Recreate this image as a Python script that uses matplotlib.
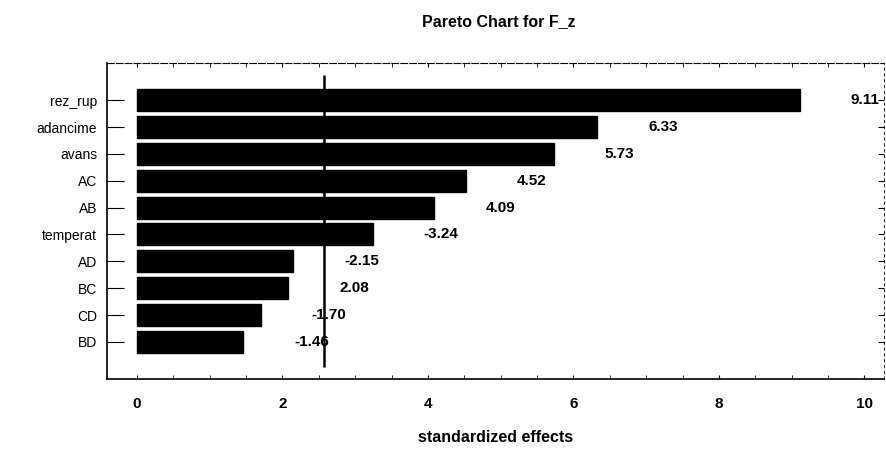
import matplotlib
matplotlib.use("Agg")
import matplotlib.pyplot as plt
import numpy as np

plt.rcParams['font.family'] = ['Liberation Sans', 'DejaVu Sans']

# Effects sorted by magnitude (signed standardized effects)
factors = ["rez_rup", "adancime", "avans", "AC", "AB", "temperat", "AD", "BC", "CD", "BD"]
effects = [9.11, 6.33, 5.73, 4.52, 4.09, -3.24, -2.15, 2.08, -1.70, -1.46]
critical_value = 2.57
x_ticks = [0, 2, 4, 6, 8, 10]

fig = plt.figure(figsize=(8.86, 4.5), dpi=100)
ax = fig.add_axes([0.1208, 0.1578, 0.877, 0.702])

pos = np.arange(len(factors))
mag = np.abs(effects)
ax.barh(pos, mag, height=0.82, color="black", edgecolor="black")

for p, m, e in zip(pos, mag, effects):
    ax.text(m + 0.7, p, f"{e:.2f}", va="center", ha="left",
            fontsize=11, fontweight="bold", color="black")

ax.plot([critical_value, critical_value], [-0.93, len(factors) - 1 + 0.93],
        color="black", lw=1.8, solid_capstyle="butt")

ax.set_xlim(-0.41, 10.27)
ax.set_ylim(len(factors) - 1 + 1.38, -1.38)
ax.set_yticks(pos)
ax.set_yticklabels(factors, fontsize=10)
ax.set_xticks(x_ticks)
ax.set_xticklabels([str(t) for t in x_ticks], fontsize=11, fontweight="bold")
ax.set_xticks(np.arange(0, 10.5, 0.5), minor=True)
ax.tick_params(axis="x", which="both", direction="in", length=3, pad=13, top=True)
ax.tick_params(axis="y", direction="in", length=12, pad=7, right=True)
for t in ax.yaxis.get_major_ticks():
    t.tick2line.set_markersize(4)

ax.spines["top"].set_linestyle((0, (6, 2)))
ax.spines["top"].set_linewidth(0.8)
ax.spines["right"].set_linestyle((0, (3, 4)))
ax.spines["right"].set_linewidth(0.6)
ax.spines["left"].set_linewidth(1.2)
ax.spines["bottom"].set_linewidth(1.2)

ax.set_xlabel("standardized effects", fontsize=11.5, fontweight="bold", labelpad=14)
fig.text(0.563, 0.953, "Pareto Chart for F_z", ha="center", va="center",
         fontsize=11.5, fontweight="bold")

fig.savefig("out.png", dpi=100)
